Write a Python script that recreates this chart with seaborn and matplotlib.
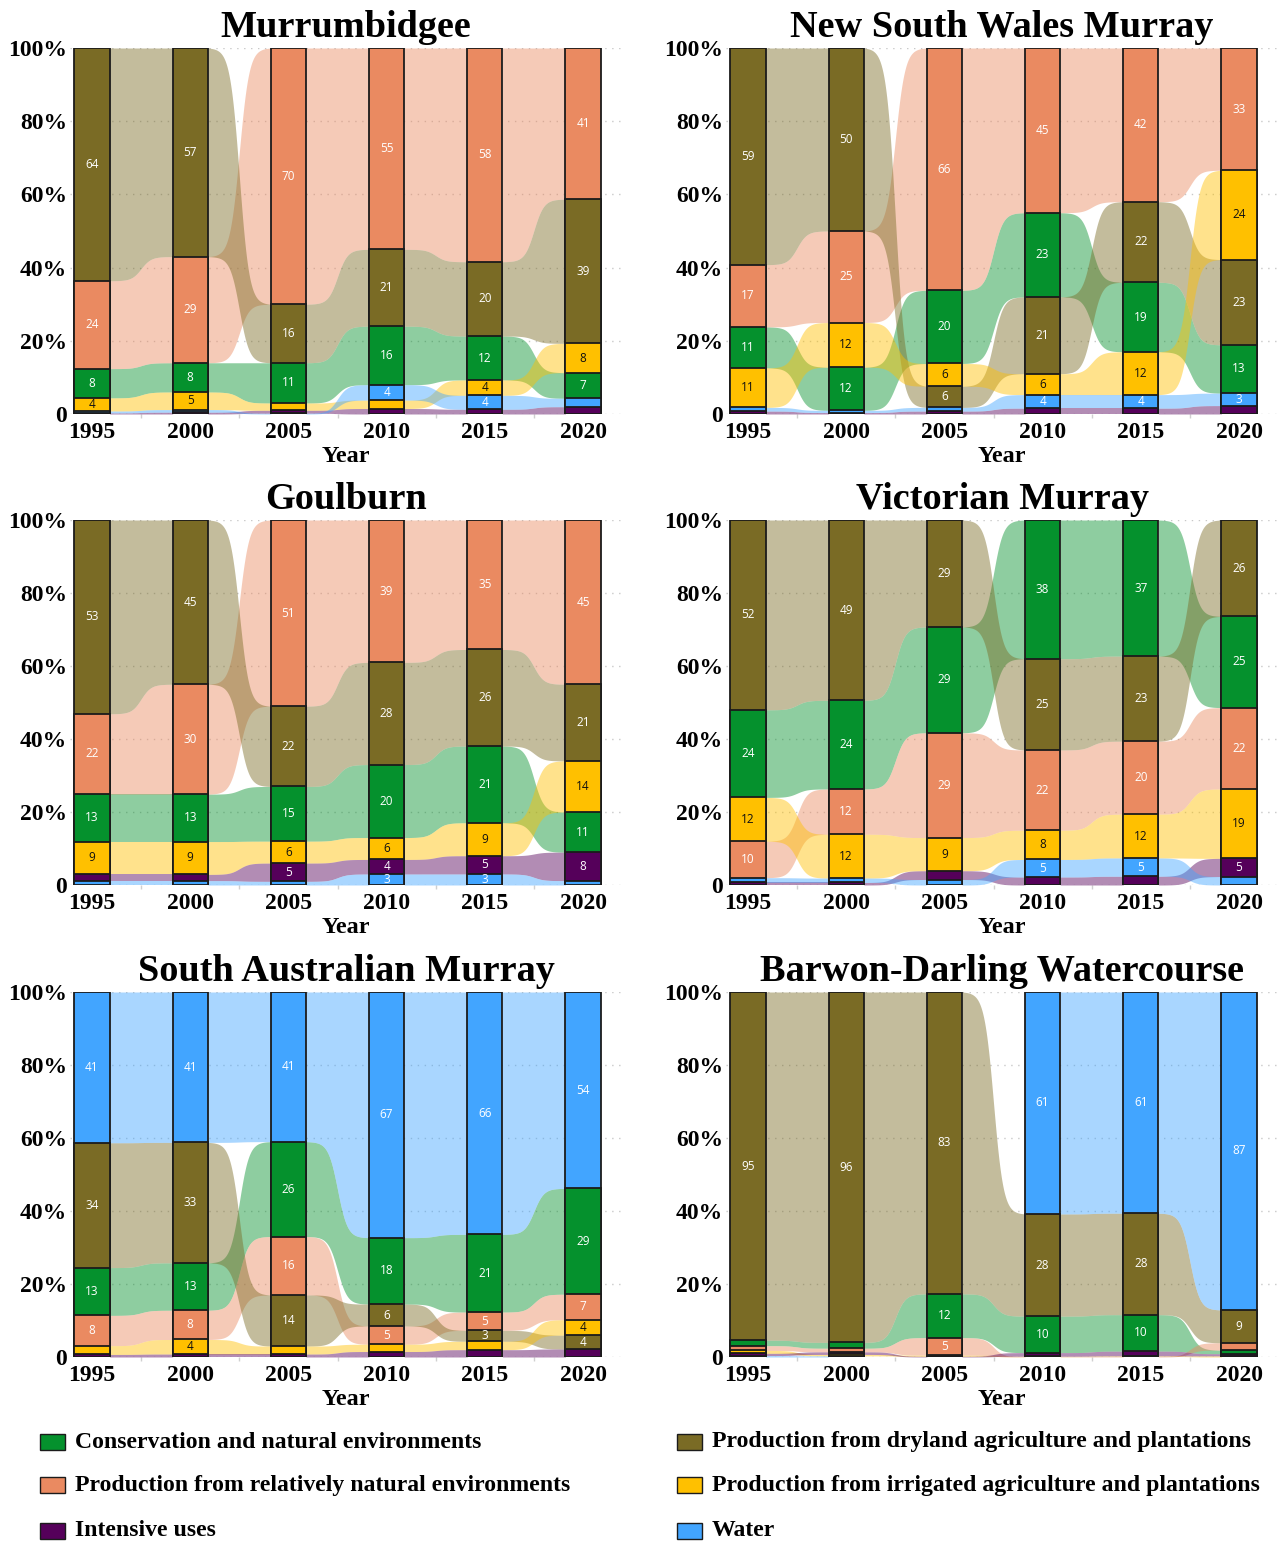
import numpy as np
import pandas as pd
import matplotlib
matplotlib.use("Agg")
import matplotlib.pyplot as plt
from matplotlib.patches import Rectangle
import seaborn as sns

YEARS = [1995, 2000, 2005, 2010, 2015, 2020]
CATEGORIES = [
    "Conservation and natural environments",
    "Production from relatively natural environments",
    "Production from dryland agriculture and plantations",
    "Production from irrigated agriculture and plantations",
    "Intensive uses",
    "Water",
]
COLORS = ["#05912D", "#EA8A61", "#7A6B25", "#FFC000", "#55005A", "#42A5FF"]
TEXT_COLORS = ["white", "white", "white", "#111111", "white", "white"]

# Share of land use (%), rows follow CATEGORIES, columns follow YEARS
murrumbidgee = [
    [8, 8, 11, 16, 12, 7],
    [24, 29, 70, 55, 58.4, 41.3],
    [63.6, 57, 16, 21, 20.3, 39.4],
    [3.6, 4.8, 2.0, 2.3, 4.2, 8],
    [0.3, 0.5, 0.8, 1.5, 1.3, 2.0],
    [0.5, 0.7, 0.2, 4.2, 3.8, 2.3],
]
nsw_murray = [
    [11.2, 11.8, 20, 23, 19, 13.2],
    [17, 25, 66.2, 45, 42, 33.4],
    [59.2, 50, 5.8, 21, 22, 23.3],
    [10.8, 12.2, 6.2, 5.7, 11.7, 24.4],
    [0.8, 0.4, 0.8, 1.6, 1.6, 2.3],
    [1.0, 0.6, 1.0, 3.7, 3.7, 3.4],
]
goulburn = [
    [13, 13, 15, 20, 21, 11],
    [22, 30.1, 51, 39, 35.4, 45],
    [53.1, 45, 22, 28, 26.4, 21],
    [9, 9, 6, 6, 9, 14],
    [1.7, 1.7, 5, 4, 5, 7.8],
    [1.2, 1.2, 1.0, 3, 3, 1.2],
]
vic_murray = [
    [24, 24.3, 29, 38, 37.3, 25],
    [10, 12.4, 28.7, 22, 20, 22.3],
    [52, 49.4, 29.3, 25, 23.3, 26.4],
    [12, 12.0, 9.1, 8, 12, 19],
    [0.7, 0.7, 2.4, 2.2, 2.4, 5],
    [1.3, 1.2, 1.5, 4.8, 5, 2.3],
]
sa_murray = [
    [13.1, 13, 26, 18.2, 21.3, 29],
    [8.3, 8, 16, 5, 5, 7],
    [34.2, 33, 14, 6, 3, 3.8],
    [2.4, 4, 2.2, 2.0, 2.3, 4.2],
    [0.7, 0.8, 0.8, 1.5, 2.0, 2.2],
    [41.3, 41.2, 41, 67.3, 66.4, 53.8],
]
barwon_darling = [
    [1.5, 1.6, 12, 10, 10, 1.0],
    [1.3, 1.0, 4.8, 0.1, 0.15, 2.0],
    [95.4, 96, 82.7, 28, 27.8, 9],
    [0.8, 0.4, 0.3, 0.1, 0.15, 0.3],
    [0.6, 0.7, 0.2, 1.0, 1.3, 0.6],
    [0.4, 0.3, 0.0, 60.8, 60.6, 87.1],
]

REGIONS = [
    ("Murrumbidgee", murrumbidgee),
    ("New South Wales Murray", nsw_murray),
    ("Goulburn", goulburn),
    ("Victorian Murray", vic_murray),
    ("South Australian Murray", sa_murray),
    ("Barwon-Darling Watercourse", barwon_darling),
]

PALETTE = dict(zip(CATEGORIES, COLORS))
BAR_W = 0.357

sns.set_theme(style="white")
plt.rcParams["font.family"] = ["Liberation Serif", "DejaVu Serif"]
plt.rcParams["text.color"] = "black"
plt.rcParams["axes.labelcolor"] = "black"
plt.rcParams["xtick.color"] = "black"
plt.rcParams["ytick.color"] = "black"
plt.rcParams["axes.unicode_minus"] = False

W, H = 1281, 1543
fig = plt.figure(figsize=(W / 100, H / 100), dpi=100, facecolor="white")


def ease(t, k=6.5):
    return (np.tanh(k * (t - 0.5)) / np.tanh(k / 2) + 1) / 2


def draw_panel(ax, title, values):
    vals = np.array(values, dtype=float)
    shares = vals / vals.sum(axis=0) * 100
    n_cat, n_year = shares.shape
    pos = np.arange(n_year)

    bottoms = np.zeros_like(shares)
    tops = np.zeros_like(shares)
    orders = []
    for j in range(n_year):
        order = np.argsort(shares[:, j], kind="stable")
        cum = 0.0
        for c in order:
            bottoms[c, j] = cum
            cum += shares[c, j]
            tops[c, j] = cum
        orders.append(order)

    # flows between neighbouring years
    t = np.linspace(0, 1, 120)
    e = ease(t)
    for j in range(n_year - 1):
        x0 = pos[j] + BAR_W / 2
        x1 = pos[j + 1] - BAR_W / 2
        xs = x0 + (x1 - x0) * t
        for c in range(n_cat):
            if shares[c, j] <= 0 or shares[c, j + 1] <= 0:
                continue
            lo = bottoms[c, j] + (bottoms[c, j + 1] - bottoms[c, j]) * e
            hi = tops[c, j] + (tops[c, j + 1] - tops[c, j]) * e
            ax.fill_between(xs, lo, hi, color=COLORS[c], alpha=0.45,
                            linewidth=0, zorder=1)

    # stacked bars: cumulative heights drawn from the top layer down
    for rank in range(n_cat - 1, -1, -1):
        cats = [orders[j][rank] for j in range(n_year)]
        df = pd.DataFrame({
            "pos": pos,
            "top": [tops[c, j] for j, c in enumerate(cats)],
            "category": [CATEGORIES[c] for c in cats],
        })
        df = df[df["top"] > 0]
        sns.barplot(data=df, x="pos", y="top", hue="category", palette=PALETTE,
                    dodge=False, native_scale=True, width=BAR_W, errorbar=None,
                    saturation=1, edgecolor="#1b1b1b", linewidth=1.3,
                    legend=False, ax=ax, zorder=2)

    for j in range(n_year):
        for c in range(n_cat):
            v = int(round(shares[c, j]))
            if v >= 3:
                ax.text(pos[j], (bottoms[c, j] + tops[c, j]) / 2, str(v),
                        ha="center", va="center", fontsize=8.5,
                        family="Open Sans", fontweight="normal",
                        color=TEXT_COLORS[c], zorder=3)

    ax.set_xlim(-0.224, 5.397)
    ax.set_ylim(0, 100)
    ax.set_yticks([0, 20, 40, 60, 80, 100])
    ax.set_yticklabels(["0", "20%", "40%", "60%", "80%", "100%"])
    ax.set_xticks(pos)
    ax.set_xticklabels([str(y) for y in YEARS])
    ax.set_xticks(pos[:-1] + 0.5, minor=True)
    for lab in ax.get_xticklabels() + ax.get_yticklabels():
        lab.set_fontweight("bold")
        lab.set_fontsize(17)
    ax.tick_params(axis="x", which="major", length=0, pad=5.5)
    ax.tick_params(axis="x", which="minor", length=3, color="#d0d0d0",
                   width=1, direction="out", bottom=True)
    ax.tick_params(axis="y", length=0, pad=2)
    for s in ax.spines.values():
        s.set_visible(False)
    ax.set_axisbelow(True)
    ax.yaxis.grid(True, linestyle=(0, (1, 4)), color="#c8c8c8", linewidth=1,
                  zorder=0)
    ax.xaxis.grid(False)
    ax.set_ylabel("")
    ax.set_xlabel("Year", fontsize=17.5, fontweight="bold", labelpad=2.5)
    ax.text(0.5, 1.03, title, transform=ax.transAxes, ha="center",
            va="baseline", fontsize=27.5, fontweight="bold")


ROW_BOTTOMS = [414, 885, 1357]
ROW_TOPS = [48, 520, 992]
COL_LEFTS = [70, 726]
AX_W = 552

for i, (title, data) in enumerate(REGIONS):
    r, c = divmod(i, 2)
    left = COL_LEFTS[c] / W
    bottom = 1 - ROW_BOTTOMS[r] / H
    height = (ROW_BOTTOMS[r] - ROW_TOPS[r]) / H
    ax = fig.add_axes([left, bottom, AX_W / W, height])
    ax.set_facecolor("white")
    draw_panel(ax, title, data)

# legend in two columns
LEGEND_ROWS = [1442, 1485, 1531]
legend_layout = [
    (0, 40, 0), (1, 40, 1), (4, 40, 2),
    (2, 677, 0), (3, 677, 1), (5, 677, 2),
]
for cat, x, row in legend_layout:
    yc = LEGEND_ROWS[row]
    fig.patches.append(Rectangle((x / W, 1 - (yc + 8) / H), 25 / W, 16 / H,
                                 transform=fig.transFigure,
                                 facecolor=COLORS[cat], edgecolor="#1b1b1b",
                                 linewidth=1.0))
    fig.text((x + 35) / W, 1 - yc / H, CATEGORIES[cat], ha="left",
             va="center", fontsize=17.1, fontweight="bold")

fig.savefig("out.png", dpi=100, facecolor="white")
